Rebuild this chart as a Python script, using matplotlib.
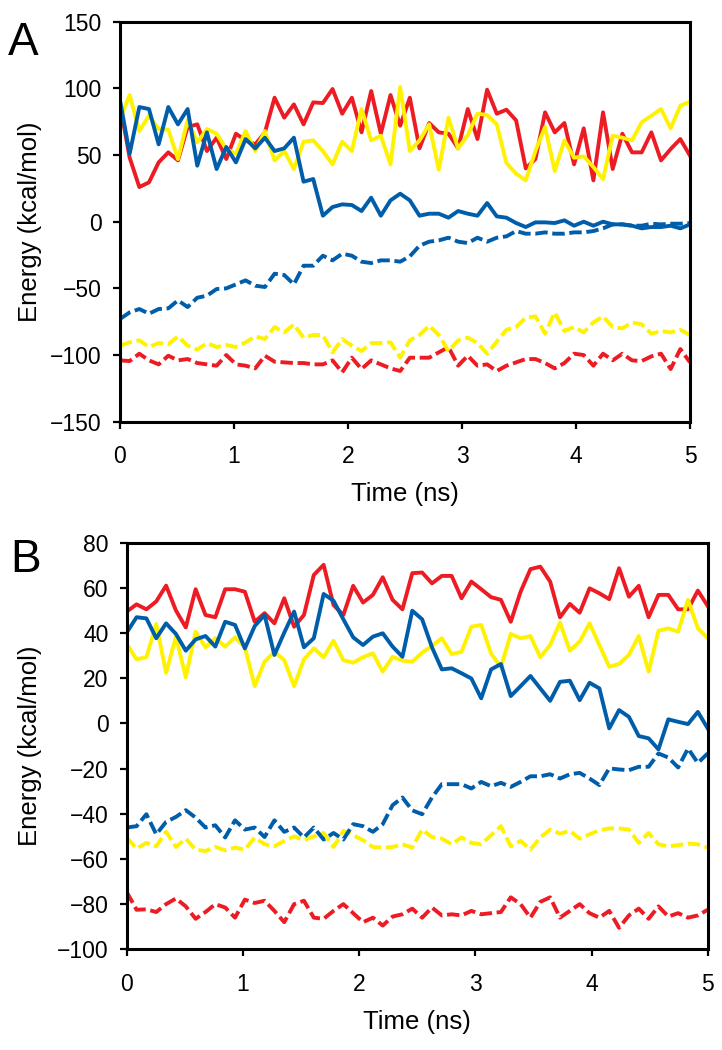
import numpy as np
import matplotlib
matplotlib.use("Agg")
import matplotlib.pyplot as plt

plt.rcParams['font.family'] = ['Liberation Sans', 'DejaVu Sans']

# time axis, 60 frames over 5 ns
time_ns = np.linspace(0, 5, 60)

# panel A
a_red = [88, 48, 26, 29.5, 44.5, 52, 46, 71, 73, 53, 63, 47, 66, 61, 58, 67, 93, 78, 88, 73,
         89.5, 89, 99.5, 81, 93, 67, 98, 66, 95, 72, 93, 55, 74, 67, 66, 55, 84.5, 62, 99, 81,
         84, 76, 40, 47, 82, 67, 74, 43, 70, 31, 82, 39.5, 66, 52, 52, 67, 46, 54.5, 62, 49.5]
a_yellow = [77, 95, 68, 79.5, 69.5, 69, 47, 76, 59.5, 69.5, 66, 54.5, 51, 68, 53, 68, 46, 53, 39.5, 60,
            61, 53, 43, 60, 53, 84.5, 61, 64.5, 43, 101, 53, 61, 73, 39, 78, 55, 65, 81, 80, 73,
            44, 36, 31, 53, 71, 38, 61, 48, 49, 41, 32, 64.5, 63, 61, 74.5, 79.5, 84.5, 70, 87, 90]
a_blue = [91, 51, 86, 84.5, 58, 86, 73, 84.5, 42, 67, 39.5, 56, 44.5, 62, 55, 63, 53, 55, 63, 30,
          32, 4.5, 11, 13, 12.5, 8, 18, 4.5, 16, 21, 16, 4.5, 6, 6, 3, 8, 6, 4.5, 14, 4,
          3, -1, -4, -0.5, -0.5, -1, 1, -3, 0, -3, 0, -2, -2, -3, -5, -4, -4, -3, -5, -2]
a_blue_d = [-73, -68, -65.5, -69, -65.5, -65, -59, -64, -57, -55.5, -50.5, -50, -47, -44, -48, -49, -39, -40, -47, -33,
            -33, -25.5, -29, -24, -25.5, -30, -31, -29, -29, -30, -26, -18, -15, -14, -12, -15, -16, -12, -15, -12,
            -11, -7, -9, -9, -8, -9, -9, -8, -8, -7, -5, -2, -2, -3, -3, -1.5, -2, -1.5, -1.5, -1]
a_yellow_d = [-93, -90.5, -89, -94, -91, -92, -86, -93, -96, -91, -94, -92.5, -94, -90.5, -86, -88, -79, -83, -77, -87,
              -85, -85, -98, -88, -93, -97, -91, -91, -90.5, -102, -89, -85, -78, -85, -97, -89, -87, -91, -99, -90,
              -81, -79, -72, -71, -84, -68, -82, -79, -83, -75.5, -71, -79, -80, -75.5, -77, -84, -82, -83, -81, -85]
a_red_d = [-104, -104.5, -99, -104, -107, -100.5, -104, -103, -106, -107, -108, -100, -107, -108, -110, -100.5, -105, -105.5, -106, -106,
           -107, -107, -104, -113, -102, -110.5, -104, -107, -110, -112, -102, -102, -102, -98, -94, -108, -100.5, -108, -107, -112,
           -108, -105.5, -103, -103, -106, -110, -106, -99, -100, -108, -99, -104, -99, -104, -104.5, -101, -99, -110.5, -95.5, -105.5]

# panel B
b_red = [49.5, 52.7, 50.5, 54, 61, 50, 42.5, 59.4, 48, 47, 59.4, 59.4, 58.3, 45, 48.8, 44.3, 55.4, 42.8, 48, 65.7,
         70.2, 52.4, 48, 60.9, 53.5, 56.9, 64.7, 54.7, 50.5, 66.5, 66.8, 62, 65.3, 65.3, 55.4, 62.8, 59.4, 55.9, 54.7, 45,
         58.3, 68.3, 69.4, 62.8, 47, 52.9, 49, 59.8, 57.6, 55, 68.7, 56.1, 60.9, 47, 56.9, 56.9, 50.5, 50.5, 58.8, 52]
b_yellow = [35.1, 28.4, 29.3, 44, 22.4, 38.4, 20.4, 40.6, 33.7, 37.7, 34, 38.1, 33.7, 16.5, 27.3, 31.7, 28, 16.5, 28.4, 33.2,
            29.3, 36.6, 28, 26.9, 29.3, 31, 22.9, 29.5, 27.8, 27.3, 31.3, 34.3, 37.7, 30.7, 31.7, 42.8, 43.6, 31, 24.8, 39.6,
            37.7, 38.7, 29.3, 34.7, 44.6, 32.2, 36.2, 44.3, 34.7, 25.1, 26.3, 30.3, 38.7, 22.9, 41, 42.1, 40.6, 54.7, 42.1, 37.7]
b_blue = [40.2, 47, 46.5, 37.7, 44.3, 39.6, 32.2, 37.2, 38.7, 34, 45, 43.6, 33.2, 43.1, 48, 30.3, 40.2, 49.5, 33.7, 37.7,
          57.3, 54.3, 46.1, 38.1, 34.7, 38.4, 39.9, 34, 29.5, 49.9, 46.1, 33.7, 23.9, 24.4, 22.2, 19.9, 11.1, 23.9, 26.3, 12.1,
          16.5, 21, 15.5, 10, 18.4, 18.9, 10.3, 18, 15.5, -2.2, 5.9, 2.9, -5.6, -6.6, -11.5, 1.8, 0.7, -0.3, 5.1, -2.2]
b_blue_d = [-46.1, -45.5, -40.2, -49.1, -43.6, -41.4, -38.4, -41.7, -46.1, -45.1, -50.5, -42.9, -47, -46.1, -50.3, -42.9, -48, -46.1, -50.5, -46.1,
            -51.4, -48.5, -51.4, -44.6, -45.5, -48, -44.6, -36.2, -32.8, -38.5, -40.2, -32.8, -26.9, -26.9, -26.9, -28.8, -25.9, -27.8, -26.3, -28.1,
            -25.9, -23.4, -23.4, -22.5, -24.4, -22.5, -21.9, -24.4, -27.3, -19.9, -20.4, -20.7, -19.2, -19.2, -13.3, -15.1, -19.5, -11.1, -17.5, -13.3]
b_yellow_d = [-50.5, -55.4, -52.9, -54.4, -48, -54.7, -51, -55.9, -56.5, -54.7, -56.2, -55, -55.9, -50.5, -53.5, -54.4, -52, -50, -51.7, -50,
              -48.5, -54.7, -47.6, -49.5, -51.7, -54.7, -55, -54.7, -53.5, -55, -47, -50.3, -51, -53.5, -50.5, -52.9, -53.5, -49.5, -45.5, -54.4,
              -52, -55.9, -50.5, -47, -48.8, -47.6, -51, -49.1, -47.3, -46.5, -46.5, -47, -52.9, -48.5, -53.5, -54.4, -53.9, -53.2, -53.5, -55]
b_red_d = [-74.6, -82.5, -82.3, -83.5, -80, -77.5, -81, -86.5, -83.5, -80, -81.5, -86, -78, -79.5, -78.5, -83, -88, -80, -78.5, -86,
           -86.5, -83, -80, -84, -88, -86, -89.5, -85.5, -84.5, -82, -86, -81.5, -85, -84.5, -85, -83, -84.5, -84, -83.5, -77,
           -80, -86, -79, -77, -86, -83, -80, -84, -86, -83, -90.5, -85, -82, -86.5, -81, -85.5, -84, -86, -85, -82.5]

RED = '#ed1c24'
YELLOW = '#fff200'
BLUE = '#005daa'
DASH = (0, (3.2, 1.2))

W, H = 722, 1050
fig = plt.figure(figsize=(W / 100, H / 100), dpi=100)


def px_rect(left, top, right, bottom):
    return [left / W, 1 - bottom / H, (right - left) / W, (bottom - top) / H]


def style_axes(ax, ylim, ystep):
    ax.set_xlim(0, 5)
    ax.set_ylim(*ylim)
    ax.set_xticks(range(0, 6))
    ax.set_yticks(np.arange(ylim[0], ylim[1] + 1, ystep))
    for s in ax.spines.values():
        s.set_linewidth(2.2)
        s.set_color('black')
    ax.tick_params(axis='both', direction='out', length=5, width=1.6, labelsize=16.5)
    ax.tick_params(axis='y', pad=8)
    ax.tick_params(axis='x', pad=12)
    ax.set_xlabel('Time (ns)', fontsize=18.5, labelpad=10)
    ax.set_ylabel('Energy (kcal/mol)', fontsize=18.5)


def draw(ax, red, yellow, blue, red_d, yellow_d, blue_d):
    lw = 2.8
    ax.plot(time_ns, red_d, color=RED, lw=lw, ls=DASH)
    ax.plot(time_ns, yellow_d, color=YELLOW, lw=lw, ls=DASH)
    ax.plot(time_ns, blue_d, color=BLUE, lw=lw, ls=DASH)
    ax.plot(time_ns, red, color=RED, lw=lw)
    ax.plot(time_ns, yellow, color=YELLOW, lw=lw)
    ax.plot(time_ns, blue, color=BLUE, lw=lw)


ax1 = fig.add_axes(px_rect(120, 21.7, 690, 421.7))
draw(ax1, a_red, a_yellow, a_blue, a_red_d, a_yellow_d, a_blue_d)
style_axes(ax1, (-150, 150), 50)
ax1.yaxis.set_label_coords((42 - 120) / 570, 0.5)

ax2 = fig.add_axes(px_rect(126.7, 542.7, 707.7, 949.3))
draw(ax2, b_red, b_yellow, b_blue, b_red_d, b_yellow_d, b_blue_d)
style_axes(ax2, (-100, 80), 20)
ax2.yaxis.set_label_coords((42 - 126.7) / 581, 0.5)

fig.text(8 / W, 1 - 55 / H, 'A', fontsize=33, va='baseline')
fig.text(10 / W, 1 - 572 / H, 'B', fontsize=33, va='baseline')

fig.savefig('out.png', dpi=100)
